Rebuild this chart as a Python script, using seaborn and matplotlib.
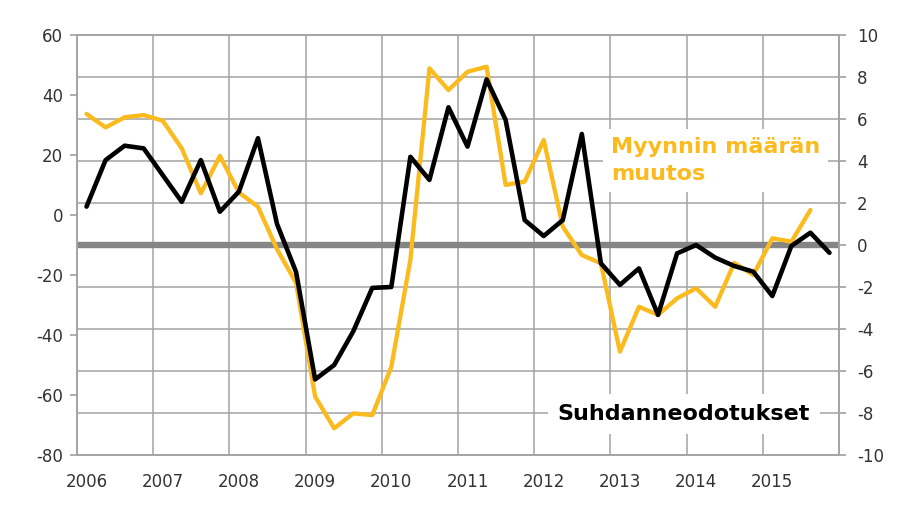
import numpy as np
import pandas as pd
import seaborn as sns
import matplotlib.pyplot as plt
from matplotlib.ticker import FixedLocator

# ---- data (quarterly 2006Q1 - 2015Q4) ----
years = list(range(2006, 2016))
quarters = [f"{y}Q{q}" for y in years for q in range(1, 5)]

# Suhdanneodotukset (saldoluku, left axis)
expectations = [2.8, 18.3, 23.1, 22.2,
                13.3, 4.4, 18.3, 1.1,
                7.8, 25.6, -3.0, -19.0,
                -54.8, -50.0, -38.8, -24.3,
                -24.0, 19.4, 11.7, 35.9,
                22.8, 45.2, 31.7, -1.7,
                -7.0, -1.7, 27.0, -16.1,
                -23.3, -17.8, -33.3, -12.8,
                -10.0, -14.2, -17.0, -18.9,
                -27.0, -10.3, -5.9, -12.6]

# Myynnin määrän muutos (%, right axis)
sales_change = [6.24, 5.6, 6.08, 6.19,
                5.92, 4.6, 2.46, 4.24,
                2.5, 1.82, -0.2, -1.8,
                -7.22, -8.73, -8.02, -8.1,
                -5.8, -0.71, 8.41, 7.38,
                8.25, 8.49, 2.86, 3.02,
                5.0, 0.87, -0.48, -0.87,
                -5.08, -2.94, -3.33, -2.54,
                -2.06, -2.94, -0.85, -1.43,
                0.32, 0.16, 1.67, np.nan]

left_ticks = list(range(-80, 61, 20))
right_ticks = list(range(-10, 11, 2))
year_labels = [str(y) for y in years]

label_sales = "Myynnin määrän\nmuutos"
label_exp = "Suhdanneodotukset"

# ---- styling ----
sns.set_theme(style="white")
plt.rcParams['font.family'] = ['DejaVu Sans']
plt.rcParams['axes.unicode_minus'] = False

YELLOW = "#FBBA1E"
GRID = "#A3A3A3"
TXT = "#333333"
TICKSIZE = 12

pos = [int(s[:4]) + (int(s[-1]) - 0.5) / 4 for s in quarters]
df = pd.DataFrame({"pos": pos, "exp": expectations, "sales": sales_change})

fig = plt.figure(figsize=(9.16, 5.15), dpi=100)
ax = fig.add_axes([77 / 916, 1 - 455 / 515, 762 / 916, 420 / 515])
ax2 = ax.twinx()

# main axes: right-hand scale (sales), grid, zero line
ax.set_ylim(-10, 10)
ax.set_xlim(years[0], years[-1] + 1)
ax.yaxis.tick_right()
ax.yaxis.set_major_locator(FixedLocator(right_ticks))
ax.xaxis.set_major_locator(FixedLocator(list(range(years[0], years[-1] + 2))))
ax.xaxis.set_major_formatter(plt.NullFormatter())
ax.set_xticks([y + 0.125 for y in years], minor=True)
ax.set_xticklabels(year_labels, minor=True)
ax.grid(True, which="major", color=GRID, linewidth=1.1)
ax.set_axisbelow(True)
ax.axhline(0, color="#858585", linewidth=4.6, zorder=1.5)

sns.lineplot(data=df, x="pos", y="sales", ax=ax, color=YELLOW,
             linewidth=3.1, zorder=3)

# twin axes: left-hand scale (expectations)
ax2.set_ylim(-80, 60)
ax2.yaxis.tick_left()
ax2.set_yticks(left_ticks)
sns.lineplot(data=df, x="pos", y="exp", ax=ax2, color="black",
             linewidth=3.3, zorder=3)
ax2.set_xlim(years[0], years[-1] + 1)

for a in (ax, ax2):
    a.set_xlabel("")
    a.set_ylabel("")
    for s in a.spines.values():
        s.set_color(GRID)
        s.set_linewidth(1.1)

ax.tick_params(axis="y", which="both", right=True, left=False, length=5,
               color=GRID, labelsize=TICKSIZE, labelcolor=TXT, pad=8,
               labelright=True, labelleft=False)
ax.tick_params(axis="x", which="both", length=0, bottom=False,
               labelsize=TICKSIZE, labelcolor=TXT, pad=13)
ax2.tick_params(axis="y", left=True, right=False, length=5, color=GRID,
                labelsize=TICKSIZE, labelcolor=TXT, pad=5,
                labelleft=True, labelright=False)
ax2.tick_params(axis="x", which="both", length=0, bottom=False, top=False,
                labelbottom=False)
for lab in ax.get_yticklabels():
    lab.set_horizontalalignment("left")

# series labels
ax2.text(0.701, 0.701, label_sales, transform=ax2.transAxes, color=YELLOW,
         fontsize=16, fontweight="bold", ha="left", va="center",
         linespacing=1.45, zorder=5,
         bbox=dict(boxstyle="square,pad=0.35", fc="white", ec="none"))
ax2.text(0.631, 0.098, label_exp, transform=ax2.transAxes, color="black",
         fontsize=16, fontweight="bold", ha="left", va="center", zorder=5,
         bbox=dict(boxstyle="square,pad=0.45", fc="white", ec="none"))

fig.savefig("out.png", dpi=100, facecolor="white")
